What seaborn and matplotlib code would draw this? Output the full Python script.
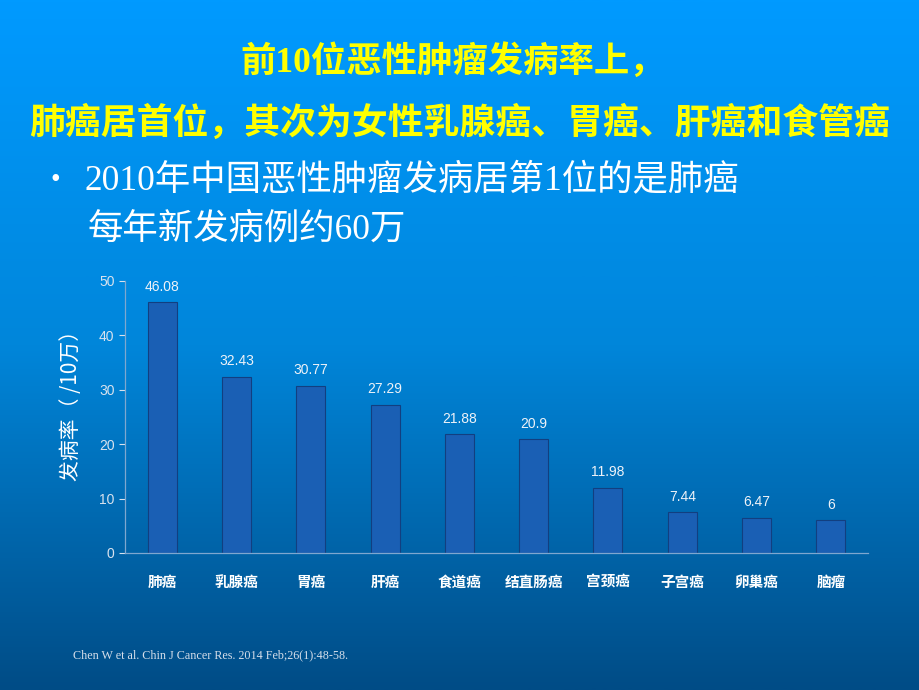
import numpy as np
import pandas as pd
import matplotlib
matplotlib.use("Agg")
import matplotlib.pyplot as plt
from matplotlib.colors import LinearSegmentedColormap
import seaborn as sns

categories = ["肺癌", "乳腺癌", "胃癌", "肝癌", "食道癌", "结直肠癌", "宫颈癌", "子宫癌", "卵巢癌", "脑瘤"]
values = [46.08, 32.43, 30.77, 27.29, 21.88, 20.9, 11.98, 7.44, 6.47, 6]
yticks = [0, 10, 20, 30, 40, 50]

title1 = "前10位恶性肿瘤发病率上，"
title2 = "肺癌居首位，其次为女性乳腺癌、胃癌、肝癌和食管癌"
bullet1 = "2010年中国恶性肿瘤发病居第1位的是肺癌"
bullet2 = "每年新发病例约60万"
ylabel = "发病率（ /10万）"
citation = "Chen W et al. Chin J Cancer Res. 2014 Feb;26(1):48-58."

sns.set_theme(style="white")
plt.rcParams['font.family'] = ['Liberation Sans', 'Noto Sans CJK SC', 'DejaVu Sans']
plt.rcParams['axes.unicode_minus'] = False

fig = plt.figure(figsize=(9.2, 6.9), dpi=100)

# background gradient
bg = fig.add_axes([0, 0, 1, 1], zorder=-10)
cmap = LinearSegmentedColormap.from_list("bg", [(0, "#009AFF"), (0.5, "#0086DA"), (1.0, "#004C86")])
grad = np.linspace(0, 1, 512).reshape(-1, 1)
bg.imshow(grad, aspect="auto", cmap=cmap, extent=[0, 1, 0, 1], origin="upper")
bg.set_axis_off()

serif_cjk = ['Liberation Serif', 'Noto Sans CJK SC']
fig.text(0.492, 0.910, title1, ha="center", va="center", fontsize=25.5, fontweight="bold",
         color="#FFFF00", family=serif_cjk)
fig.text(0.500, 0.820, title2, ha="center", va="center", fontsize=25.8, fontweight="bold",
         color="#FFFF00", family=serif_cjk)
fig.text(0.055, 0.738, "•", ha="left", va="center", fontsize=20, color="white", family=serif_cjk)
fig.text(0.092, 0.738, bullet1, ha="left", va="center", fontsize=25.5, color="white", family=serif_cjk)
fig.text(0.095, 0.667, bullet2, ha="left", va="center", fontsize=25.5, color="white", family=serif_cjk)
fig.text(0.079, 0.051, citation, ha="left", va="center", fontsize=8.7, color="#D5DEEA",
         family=['Liberation Serif'])

ax = fig.add_axes([0.1359, 0.1986, 0.8076, 0.3942])
ax.set_facecolor("none")
df = pd.DataFrame({"cat": categories, "val": values})
sns.barplot(data=df, x="cat", y="val", ax=ax, color="#1A5FB4", edgecolor="#123F80",
            linewidth=0.8, width=0.39, saturation=1)
ax.set_xlim(-0.5, len(categories) - 0.5)
ax.set_ylim(0, 50)
ax.set_yticks(yticks)
ax.tick_params(axis="y", colors="#D8E2EE", labelsize=10, length=4, width=0.8, direction="out", left=True)
ax.tick_params(axis="x", length=0, pad=15)
for lab in ax.get_xticklabels():
    lab.set_fontweight("bold")
    lab.set_color("white")
    lab.set_fontsize(10.5)
    lab.set_family(['Noto Sans CJK SC'])
for sp in ["top", "right"]:
    ax.spines[sp].set_visible(False)
for sp in ["left", "bottom"]:
    ax.spines[sp].set_color("#7FA7CF")
    ax.spines[sp].set_linewidth(0.9)
ax.set_xlabel("")
ax.set_ylabel(ylabel, fontsize=15, color="white", labelpad=10,
              family=['Noto Sans CJK SC', 'Liberation Sans'])
ax.yaxis.set_label_coords(-0.058, 0.56)

labels = [f"{v:g}" for v in values]
ax.bar_label(ax.containers[0], labels=labels, padding=6, fontsize=10, color="#EEF2F8")

fig.savefig("out.png", dpi=100)
